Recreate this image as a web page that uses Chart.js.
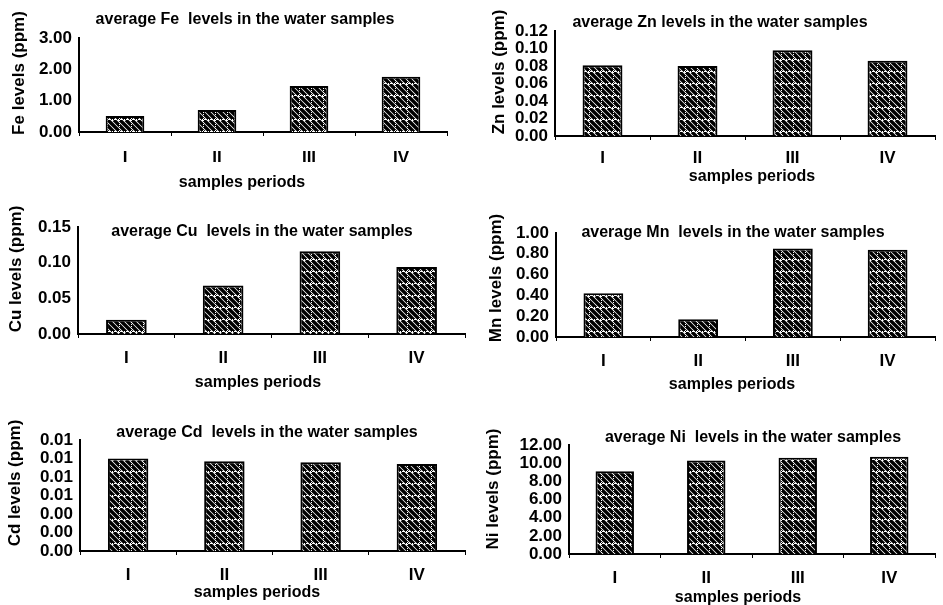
<!DOCTYPE html>
<html>
<head>
<meta charset="utf-8">
<script src="https://cdn.jsdelivr.net/npm/chart.js@4.4.1/dist/chart.umd.min.js"></script>
<style>
  html, body { margin: 0; padding: 0; background: #fff; }
  #wrap { position: relative; width: 943px; height: 605px; overflow: hidden; background: #fff; }
  #wrap canvas { position: absolute; }
</style>
</head>
<body>
<div id="wrap">
  <canvas id="fe" width="470" height="200" style="left:0;top:0"></canvas>
  <canvas id="zn" width="473" height="200" style="left:470px;top:0"></canvas>
  <canvas id="cu" width="470" height="200" style="left:0;top:200px"></canvas>
  <canvas id="mn" width="473" height="200" style="left:470px;top:200px"></canvas>
  <canvas id="cd" width="470" height="205" style="left:0;top:400px"></canvas>
  <canvas id="ni" width="473" height="205" style="left:470px;top:400px"></canvas>
</div>
<script>
// sampling periods (x categories)
const periods = ['I', 'II', 'III', 'IV'];

// average metal levels (ppm)
const feLevels = [0.51, 0.70, 1.47, 1.76];
const znLevels = [0.081, 0.080, 0.098, 0.086];
const cuLevels = [0.020, 0.068, 0.116, 0.094];
const mnLevels = [0.42, 0.17, 0.85, 0.84];
const cdLevels = [0.0100, 0.0097, 0.0096, 0.0094];
const niLevels = [9.1, 10.3, 10.6, 10.7];

// y-axis tick values (labels shown with two decimals)
const feTicks = [0, 1, 2, 3];
const znTicks = [0, 0.02, 0.04, 0.06, 0.08, 0.10, 0.12];
const cuTicks = [0, 0.05, 0.10, 0.15];
const mnTicks = [0, 0.2, 0.4, 0.6, 0.8, 1.0];
const cdTicks = [0, 0.002, 0.004, 0.006, 0.008, 0.010, 0.012];
const niTicks = [0, 2, 4, 6, 8, 10, 12];

const FONT = '"Liberation Sans", Arial, sans-serif';

// hatch fill: heavy black "\" stripes broken by dotted white grid lines
function makeHatch() {
    const c = document.createElement('canvas');
    c.width = 12; c.height = 12;
    const g = c.getContext('2d');
    g.fillStyle = '#fff';
    g.fillRect(0, 0, 12, 12);
    g.strokeStyle = '#000';
    g.lineWidth = 3.4;
    for (let k = -12; k <= 12; k += 6) {
        g.beginPath();
        g.moveTo(k, 0);
        g.lineTo(k + 12, 12);
        g.stroke();
    }
    g.fillStyle = '#fff';
    for (let i = 0; i < 12; i += 2) {
        g.fillRect(i, 11, 1, 1);
        g.fillRect(11, i, 1, 1);
    }
    return g.createPattern(c, 'repeat');
}
const hatch = makeHatch();

// draws panel title, x title and rotated y title
const panelText = {
    id: 'panelText',
    afterDraw(chart, args, o) {
        const ctx = chart.ctx;
        ctx.save();
        ctx.fillStyle = '#000';
        ctx.textAlign = 'center';
        ctx.textBaseline = 'middle';
        ctx.font = 'bold 16px ' + FONT;
        ctx.fillText(o.title, o.titleAt[0], o.titleAt[1]);
        ctx.fillText('samples periods', o.xTitleAt[0], o.xTitleAt[1]);
        ctx.font = 'bold 17px ' + FONT;
        ctx.translate(o.yTitleAt[0], o.yTitleAt[1]);
        ctx.rotate(-Math.PI / 2);
        ctx.fillText(o.yTitle, 0, 0);
        ctx.restore();
    }
};

function makePanel(id, p) {
    const canvas = document.getElementById(id);
    const W = canvas.width, H = canvas.height;
    const [left, top, right, bottom] = p.area;
    const xHeight = 30;

    return new Chart(canvas, {
        type: 'bar',
        data: {
            labels: periods,
            datasets: [{
                data: p.values,
                backgroundColor: hatch,
                borderColor: '#000',
                borderWidth: 2,
                borderSkipped: 'bottom',
                categoryPercentage: 1,
                barPercentage: 0.42
            }]
        },
        options: {
            responsive: false,
            animation: false,
            events: [],
            layout: { padding: { left: 0, top: top, right: W - right, bottom: H - bottom - xHeight } },
            plugins: {
                legend: { display: false },
                tooltip: { enabled: false },
                panelText: { title: p.title, titleAt: p.titleAt, xTitleAt: p.xTitleAt, yTitle: p.yTitle, yTitleAt: p.yTitleAt }
            },
            scales: {
                x: {
                    grid: { display: true, drawOnChartArea: false, offset: true, tickLength: 4, color: '#000', lineWidth: 1 },
                    border: { display: true, color: '#000', width: 2 },
                    ticks: { color: '#000', font: { family: FONT, size: 17, weight: 'bold' }, padding: p.xPad, maxRotation: 0 },
                    afterFit(s) { s.height = xHeight; }
                },
                y: {
                    min: 0,
                    max: p.ticks[p.ticks.length - 1],
                    grid: { display: false, drawTicks: false },
                    border: { display: true, color: '#000', width: 2 },
                    ticks: {
                        color: '#000',
                        font: { family: FONT, size: 17, weight: 'bold', lineHeight: 1 },
                        padding: 7,
                        autoSkip: false,
                        callback: v => Number(v).toFixed(2)
                    },
                    afterBuildTicks(s) { s.ticks = p.ticks.map(v => ({ value: v })); },
                    afterFit(s) { s.width = left; }
                }
            }
        },
        plugins: [panelText]
    });
}

makePanel('fe', {
    values: feLevels, ticks: feTicks, xPad: 12,
    title: 'average Fe  levels in the water samples', yTitle: 'Fe levels (ppm)',
    area: [79, 38, 447, 132], titleAt: [245, 20], xTitleAt: [242, 183], yTitleAt: [19, 73]
});
makePanel('zn', {
    values: znLevels, ticks: znTicks, xPad: 8,
    title: 'average Zn levels in the water samples', yTitle: 'Zn levels (ppm)',
    area: [85, 31, 465, 136], titleAt: [250, 23], xTitleAt: [282, 177], yTitleAt: [29, 72]
});
makePanel('cu', {
    values: cuLevels, ticks: cuTicks, xPad: 10,
    title: 'average Cu  levels in the water samples', yTitle: 'Cu levels (ppm)',
    area: [78, 27, 465, 134], titleAt: [262, 32], xTitleAt: [258, 183], yTitleAt: [16, 69]
});
makePanel('mn', {
    values: mnLevels, ticks: mnTicks, xPad: 10,
    title: 'average Mn  levels in the water samples', yTitle: 'Mn levels (ppm)',
    area: [86, 33, 465, 137], titleAt: [263, 33], xTitleAt: [262, 185], yTitleAt: [26, 78]
});
makePanel('cd', {
    values: cdLevels, ticks: cdTicks, xPad: 10,
    title: 'average Cd  levels in the water samples', yTitle: 'Cd levels (ppm)',
    area: [80, 40, 465, 151], titleAt: [267, 33], xTitleAt: [257, 193], yTitleAt: [15, 83]
});
makePanel('ni', {
    values: niLevels, ticks: niTicks, xPad: 10,
    title: 'average Ni  levels in the water samples', yTitle: 'Ni levels (ppm)',
    area: [99, 45, 465, 154], titleAt: [283, 38], xTitleAt: [268, 198], yTitleAt: [23, 89]
});
</script>
</body>
</html>
